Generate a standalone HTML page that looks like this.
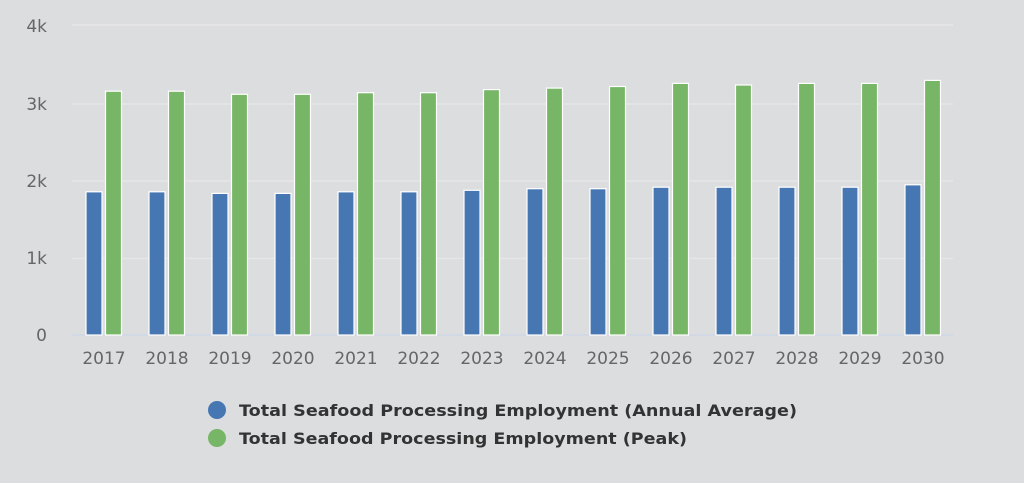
<!DOCTYPE html>
<html><head><style>body{margin:0;background:#dcdddf;}svg{display:block}</style></head>
<body>
<svg width="1024" height="483" xmlns="http://www.w3.org/2000/svg">
<rect width="1024" height="483" fill="#dcdddf"/>
<g stroke="#e6e6e8" stroke-width="1.5">
<line x1="72" x2="953" y1="25" y2="25"/><line x1="72" x2="953" y1="104" y2="104"/>
<line x1="72" x2="953" y1="181" y2="181"/><line x1="72" x2="953" y1="258.5" y2="258.5"/>
</g>
<line x1="72" x2="953" y1="335" y2="335" stroke="#c8d2e8" stroke-width="1"/>
<g font-family="DejaVu Sans, Liberation Sans, sans-serif" font-size="17" fill="#666" text-anchor="end">
<text x="47" y="32">4k</text><text x="47" y="110">3k</text><text x="47" y="187">2k</text><text x="47" y="264">1k</text><text x="47" y="341">0</text>
</g>
<g fill="#4677b3" stroke="#fff" stroke-width="1.2">
<rect x="86" y="191.8" width="16" height="143.2"/>
<rect x="149" y="191.8" width="16" height="143.2"/>
<rect x="212" y="193.4" width="16" height="141.6"/>
<rect x="275" y="193.4" width="16" height="141.6"/>
<rect x="338" y="191.8" width="16" height="143.2"/>
<rect x="401" y="191.8" width="16" height="143.2"/>
<rect x="464" y="190.3" width="16" height="144.7"/>
<rect x="527" y="188.7" width="16" height="146.3"/>
<rect x="590" y="188.7" width="16" height="146.3"/>
<rect x="653" y="187.2" width="16" height="147.8"/>
<rect x="716" y="187.2" width="16" height="147.8"/>
<rect x="779" y="187.2" width="16" height="147.8"/>
<rect x="842" y="187.2" width="16" height="147.8"/>
<rect x="905" y="184.8" width="16" height="150.2"/>
</g>
<g fill="#76b666" stroke="#fff" stroke-width="1.2">
<rect x="105.5" y="91.2" width="16" height="243.8"/>
<rect x="168.5" y="91.2" width="16" height="243.8"/>
<rect x="231.5" y="94.3" width="16" height="240.7"/>
<rect x="294.5" y="94.3" width="16" height="240.7"/>
<rect x="357.5" y="92.7" width="16" height="242.3"/>
<rect x="420.5" y="92.7" width="16" height="242.3"/>
<rect x="483.5" y="89.6" width="16" height="245.4"/>
<rect x="546.5" y="88.1" width="16" height="246.9"/>
<rect x="609.5" y="86.5" width="16" height="248.5"/>
<rect x="672.5" y="83.4" width="16" height="251.6"/>
<rect x="735.5" y="85.0" width="16" height="250.0"/>
<rect x="798.5" y="83.4" width="16" height="251.6"/>
<rect x="861.5" y="83.4" width="16" height="251.6"/>
<rect x="924.5" y="80.4" width="16" height="254.6"/>
</g>
<g font-family="DejaVu Sans, Liberation Sans, sans-serif" font-size="17" fill="#666" text-anchor="middle">
<text x="104" y="364">2017</text><text x="167" y="364">2018</text><text x="230" y="364">2019</text>
<text x="293" y="364">2020</text><text x="356" y="364">2021</text><text x="419" y="364">2022</text>
<text x="482" y="364">2023</text><text x="545" y="364">2024</text><text x="608" y="364">2025</text>
<text x="671" y="364">2026</text><text x="734" y="364">2027</text><text x="797" y="364">2028</text>
<text x="860" y="364">2029</text><text x="923" y="364">2030</text>
</g>
<circle cx="217" cy="410" r="9" fill="#4677b3"/>
<circle cx="217" cy="438" r="9" fill="#76b666"/>
<g font-family="DejaVu Sans, Liberation Sans, sans-serif" font-size="16" font-weight="bold" fill="#333">
<text x="239" y="416" textLength="558" lengthAdjust="spacingAndGlyphs">Total Seafood Processing Employment (Annual Average)</text>
<text x="239" y="444" textLength="448" lengthAdjust="spacingAndGlyphs">Total Seafood Processing Employment (Peak)</text>
</g>
</svg>
</body></html>
